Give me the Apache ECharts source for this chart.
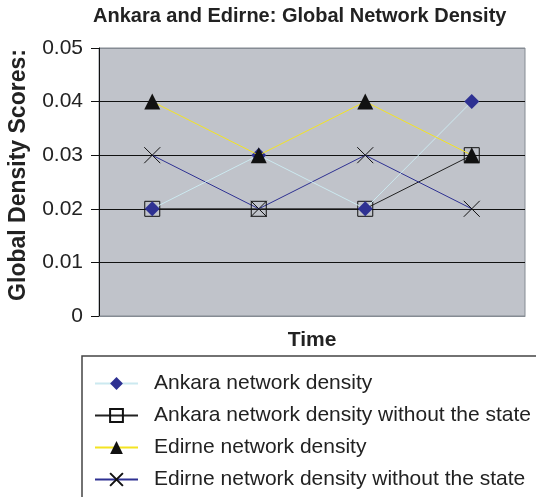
<!DOCTYPE html>
<html>
<head>
<meta charset="utf-8">
<script src="https://cdn.jsdelivr.net/npm/echarts@6/dist/echarts.min.js"></script>
<style>
  html, body { margin: 0; padding: 0; background: #fff; }
  #chart { width: 536px; height: 497px; }
</style>
</head>
<body>
<div id="chart"></div>
<script>
// time points (not labelled on the axis)
const periods = ['1', '2', '3', '4'];
const yTicks = [0, 0.01, 0.02, 0.03, 0.04, 0.05];

const ankara = [0.02, 0.03, 0.02, 0.04];
const ankaraNoState = [0.02, 0.02, 0.02, 0.03];
const edirne = [0.04, 0.03, 0.04, 0.03];
const edirneNoState = [0.03, 0.02, 0.03, 0.02];

const FONT = '"Liberation Sans", Arial, Helvetica, sans-serif';

const chart = echarts.init(document.getElementById('chart'));

const option = {
    animation: false,
    textStyle: { fontFamily: FONT },
    title: {
        text: 'Ankara and Edirne: Global Network Density',
        left: 88,
        top: 1,
        textStyle: { fontFamily: FONT, fontSize: 20, fontWeight: 'bold', color: '#222' }
    },
    grid: {
        left: 99, right: 11, top: 48, bottom: 181,
        outerBoundsMode: 'none',
        containLabel: false,
        show: true,
        backgroundColor: '#c0c3ca',
        borderColor: '#858b93',
        borderWidth: 1
    },
    legend: {
        orient: 'vertical',
        left: 94,
        top: 373,
        padding: 0,
        itemWidth: 43,
        itemHeight: 16,
        itemGap: 11,
        textStyle: { fontFamily: FONT, fontSize: 21, lineHeight: 20, color: '#222', padding: [0, 0, 0, 11] }
    },
    graphic: [{
        type: 'rect',
        shape: { x: 82, y: 356, width: 500, height: 200 },
        style: { fill: 'none', stroke: '#444', lineWidth: 1.5 },
        z: 0
    }],
    xAxis: {
        type: 'category',
        data: periods,
        boundaryGap: true,
        name: 'Time',
        nameLocation: 'middle',
        nameGap: 14,
        nameTextStyle: { fontFamily: FONT, fontSize: 21, fontWeight: 'bold', color: '#222' },
        axisLine: { lineStyle: { color: '#858b93' } },
        axisTick: { show: false },
        axisLabel: { show: false }
    },
    yAxis: {
        type: 'value',
        min: yTicks[0],
        max: yTicks[yTicks.length - 1],
        interval: 0.01,
        name: 'Global Density Scores:',
        nameLocation: 'middle',
        nameRotate: 90,
        nameGap: 69,
        nameTextStyle: {
            fontFamily: FONT, fontSize: 23, fontWeight: 'bold', color: '#222',
            padding: [0, 0, 0, 14]
        },
        axisLine: { show: true, lineStyle: { color: '#111' } },
        axisTick: { show: true, length: 8, lineStyle: { color: '#111' } },
        axisLabel: {
            margin: 16,
            fontFamily: FONT,
            fontSize: 21,
            color: '#222',
            formatter: v => (v === 0 ? '0' : v.toFixed(2))
        },
        splitLine: {
            show: true,
            lineStyle: { color: ['#111', '#111', '#111', '#111', '#111', '#858b93'], width: 1 }
        }
    },
    series: [
        {
            name: 'Ankara network density',
            type: 'line',
            data: ankara,
            symbol: 'diamond',
            symbolSize: 15,
            itemStyle: { color: '#2e3192' },
            lineStyle: { color: '#cce9f0', width: 1 },
            z: 3
        },
        {
            name: 'Ankara network density without the state',
            type: 'line',
            data: ankaraNoState,
            symbol: 'rect',
            symbolSize: 15,
            itemStyle: { color: 'none', borderColor: '#111', borderWidth: 1 },
            lineStyle: { color: '#222', width: 1 },
            z: 2
        },
        {
            name: 'Edirne network density',
            type: 'line',
            data: edirne,
            symbol: 'triangle',
            symbolSize: 16,
            itemStyle: { color: '#111' },
            lineStyle: { color: '#f4e422', width: 1 },
            z: 4
        },
        {
            name: 'Edirne network density without the state',
            type: 'line',
            data: edirneNoState,
            symbol: 'path://M0,0L10,10M10,0L0,10',
            symbolSize: 16,
            itemStyle: { color: 'none', borderColor: '#111', borderWidth: 1 },
            lineStyle: { color: '#2e3192', width: 1 },
            z: 2
        }
    ]
};

chart.setOption(option);
</script>
</body>
</html>
